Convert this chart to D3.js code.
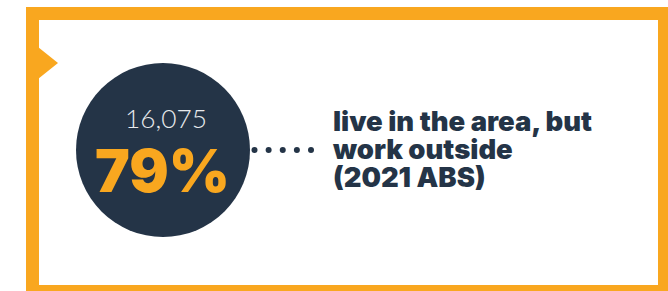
<!DOCTYPE html>
<html>
<head>
<meta charset="utf-8">
<script src="https://cdn.jsdelivr.net/npm/d3@7"></script>
<style>
  html, body { margin: 0; padding: 0; background: #ffffff; }
  svg { display: block; }
</style>
</head>
<body>
<div id="chart"></div>
<script>
// ---- data ----
const countLabel = ["16,075"];
const percentValues = [79];
const descriptionLines = ["live in the area, but", "work outside", "(2021 ABS)"];
const connectorDots = [0, 1, 2, 3, 4];

// ---- styles ----
const W = 668, H = 291;
const ORANGE = "#F9A71F";
const NAVY = "#243447";

const svg = d3.select("#chart").append("svg")
  .attr("width", W).attr("height", H);

// frame
svg.append("rect")
  .attr("x", 32.5).attr("y", 13.5)
  .attr("width", 632).attr("height", 278)
  .attr("fill", "none")
  .attr("stroke", ORANGE)
  .attr("stroke-width", 13);

svg.append("polygon")
  .attr("points", [[38, 47], [58, 63], [38, 79]].map(p => p.join(",")).join(" "))
  .attr("fill", ORANGE);

// circle
const cx = 163, cy = 150, r = 87;
svg.append("circle")
  .attr("cx", cx).attr("cy", cy).attr("r", r)
  .attr("fill", NAVY);

// connector dots
const xDots = d3.scaleLinear().domain([0, 4]).range([254.5, 311]);
svg.selectAll("circle.dot").data(connectorDots).join("circle")
  .attr("class", "dot")
  .attr("cx", d => xDots(d)).attr("cy", 150)
  .attr("r", 3)
  .attr("fill", NAVY);

function fitText(sel, targetWidth) {
  const node = sel.node();
  const base = parseFloat(sel.attr("font-size"));
  const w = node.getComputedTextLength();
  if (w > 0) sel.attr("font-size", base * targetWidth / w);
}

// count
const countText = svg.append("text")
  .attr("x", 166).attr("y", 128)
  .attr("text-anchor", "middle")
  .attr("font-family", "Lato, 'Open Sans', sans-serif")
  .attr("font-weight", 300)
  .attr("font-size", 27)
  .attr("fill", "#E8EAED")
  .text(countLabel[0]);
fitText(countText, 82);

// percent
const pctText = svg.append("text")
  .attr("x", 162.5).attr("y", 192)
  .attr("text-anchor", "middle")
  .attr("font-family", "Inter, Lato, sans-serif")
  .attr("font-weight", 900)
  .attr("font-size", 64)
  .attr("fill", ORANGE)
  .text(d3.format("d")(percentValues[0]) + "%");
fitText(pctText, 135);

// description
const desc = svg.append("text")
  .attr("font-family", "Inter, Lato, sans-serif")
  .attr("font-weight", 900)
  .attr("font-size", 27)
  .attr("fill", NAVY);
const baselines = [131, 159, 187];
desc.selectAll("tspan").data(descriptionLines).join("tspan")
  .attr("x", 333)
  .attr("y", (d, i) => baselines[i])
  .text(d => d);
// fit by first line
const firstLine = desc.select("tspan").node();
const lw = firstLine.getComputedTextLength();
if (lw > 0) desc.attr("font-size", 27 * 259 / lw);
</script>
</body>
</html>
